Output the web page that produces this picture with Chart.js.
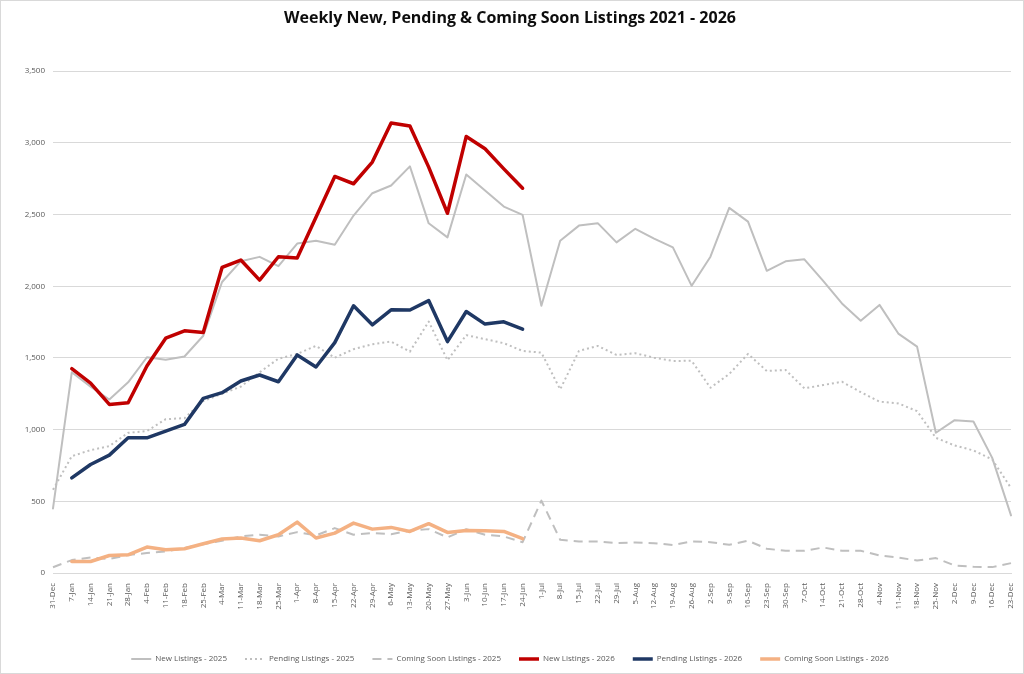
<!DOCTYPE html>
<html lang="en">

<head>
	<meta charset="UTF-8">
	<title>Weekly Listings</title>
	<script src="https://cdn.jsdelivr.net/npm/chart.js"></script>
	<style>
		html, body { margin: 0; padding: 0; background: #ffffff; }
		.janela { width: 1022px; height: 672px; border: 1px solid #d9d9d9; }
	</style>
</head>

<body>
	<div class="janela">
		<canvas id="graficoListings" width="1022" height="672"></canvas>
	</div>
	<script>
		// semanas (eixo x)
		var semanas = ['31-Dec', '7-Jan', '14-Jan', '21-Jan', '28-Jan', '4-Feb', '11-Feb', '18-Feb', '25-Feb',
			'4-Mar', '11-Mar', '18-Mar', '25-Mar', '1-Apr', '8-Apr', '15-Apr', '22-Apr', '29-Apr', '6-May',
			'13-May', '20-May', '27-May', '3-Jun', '10-Jun', '17-Jun', '24-Jun', '1-Jul', '8-Jul', '15-Jul',
			'22-Jul', '29-Jul', '5-Aug', '12-Aug', '19-Aug', '26-Aug', '2-Sep', '9-Sep', '16-Sep', '23-Sep',
			'30-Sep', '7-Oct', '14-Oct', '21-Oct', '28-Oct', '4-Nov', '11-Nov', '18-Nov', '25-Nov', '2-Dec',
			'9-Dec', '16-Dec', '23-Dec'];

		var novos2025 = [450, 1400, 1300, 1210, 1330, 1505, 1488, 1510, 1655, 2030, 2175, 2205, 2140, 2298,
			2318, 2290, 2493, 2649, 2703, 2836, 2439, 2341, 2780, 2668, 2556, 2498, 1864, 2318, 2423, 2440,
			2306, 2401, 2332, 2271, 2003, 2206, 2547, 2451, 2108, 2174, 2188, 2038, 1880, 1759, 1870, 1670,
			1579, 978, 1066, 1057, 803, 402];

		var pendentes2025 = [580, 815, 857, 885, 978, 990, 1073, 1080, 1200, 1250, 1300, 1400, 1495, 1528,
			1584, 1502, 1561, 1596, 1614, 1544, 1754, 1484, 1659, 1631, 1603, 1549, 1537, 1281, 1549, 1584,
			1521, 1533, 1502, 1479, 1480, 1292, 1388, 1528, 1409, 1416, 1288, 1311, 1334, 1262, 1195, 1183,
			1129, 943, 889, 855, 792, 593];

		var embreve2025 = [40, 90, 108, 98, 125, 139, 150, 174, 201, 225, 255, 267, 255, 285, 262, 313, 267,
			278, 271, 295, 306, 248, 306, 267, 255, 215, 505, 232, 220, 220, 208, 213, 208, 195, 220, 215,
			197, 225, 169, 155, 155, 178, 155, 155, 122, 108, 87, 104, 52, 43, 41, 69];

		var novos2026 = [null, 1425, 1325, 1176, 1187, 1444, 1638, 1689, 1677, 2131, 2183, 2043, 2206, 2197,
			2481, 2766, 2715, 2866, 3139, 3118, 2831, 2509, 3045, 2959, 2819, 2684];

		var pendentes2026 = [null, 663, 757, 822, 943, 943, 990, 1036, 1218, 1258, 1339, 1381, 1334, 1521,
			1437, 1607, 1864, 1731, 1836, 1834, 1900, 1614, 1824, 1736, 1752, 1701];

		var embreve2026 = [null, 80, 80, 122, 127, 181, 162, 169, 204, 237, 244, 225, 267, 355, 244, 278, 348,
			306, 318, 290, 344, 283, 297, 295, 290, 239];

		var ticksY = [0, 500, 1000, 1500, 2000, 2500, 3000, 3500];

		var fonte = "'Open Sans', 'Liberation Sans', sans-serif";

		function serie(nome, dados, cor, largura, traco, ordem) {
			return {
				label: nome,
				data: dados,
				borderColor: cor,
				backgroundColor: cor,
				borderWidth: largura,
				borderDash: traco,
				pointRadius: 0,
				pointHoverRadius: 0,
				tension: 0,
				fill: false,
				spanGaps: false,
				borderJoinStyle: 'round',
				borderCapStyle: traco.length ? 'butt' : 'round',
				order: ordem
			};
		}

		// legenda: manter ordem original e o tracejado de cada serie
		function gerarLegenda(chart) {
			var itens = Chart.defaults.plugins.legend.labels.generateLabels(chart);
			itens.forEach(function (item) {
				item.lineDash = chart.data.datasets[item.datasetIndex].borderDash;
				item.lineCap = 'butt';
			});
			return itens;
		}

		var ctx = document.getElementById('graficoListings').getContext('2d');
		var grafico = new Chart(ctx, {
			type: 'line',
			data: {
				labels: semanas,
				datasets: [
					serie('New Listings - 2025', novos2025, '#bfbfbf', 2, [], 1),
					serie('Pending Listings - 2025', pendentes2025, '#bfbfbf', 2, [2, 3], 1),
					serie('Coming Soon Listings - 2025', embreve2025, '#bfbfbf', 2, [9, 6], 1),
					serie('New Listings - 2026', novos2026, '#c00000', 3.5, [], 0),
					serie('Pending Listings - 2026', pendentes2026, '#1f3864', 3.5, [], 0),
					serie('Coming Soon Listings - 2026', embreve2026, '#f4b183', 3.5, [], 0)
				]
			},
			options: {
				responsive: false,
				animation: false,
				layout: {
					padding: { top: 6, left: 8, right: 12, bottom: 0 }
				},
				plugins: {
					title: {
						display: true,
						text: 'Weekly New, Pending & Coming Soon Listings 2021 - 2026',
						color: '#0d0d0d',
						font: { family: fonte, size: 16, weight: 'bold' },
						padding: { top: 2, bottom: 43 }
					},
					legend: {
						position: 'bottom',
						labels: {
							usePointStyle: true,
							pointStyle: 'line',
							pointStyleWidth: 20,
							boxHeight: 8,
							padding: 18,
							color: '#595959',
							font: { family: fonte, size: 8 },
							generateLabels: gerarLegenda,
							sort: function (a, b) { return a.datasetIndex - b.datasetIndex; }
						}
					},
					tooltip: { enabled: false }
				},
				scales: {
					x: {
						grid: { display: false },
						border: { color: '#d9d9d9' },
						ticks: {
							autoSkip: false,
							minRotation: 90,
							maxRotation: 90,
							padding: 2,
							color: '#595959',
							font: { family: fonte, size: 8 }
						},
						afterFit: function (escala) { escala.height = 64; }
					},
					y: {
						min: 0,
						max: 3500,
						afterBuildTicks: function (escala) {
							escala.ticks = ticksY.map(function (v) { return { value: v }; });
						},
						grid: { color: '#d9d9d9', drawTicks: false },
						border: { display: false },
						ticks: {
							padding: 8,
							color: '#595959',
							font: { family: fonte, size: 8 },
							callback: function (v) { return v.toLocaleString('en-US'); }
						},
						afterFit: function (escala) { escala.width = 44; }
					}
				}
			}
		});
	</script>
</body>

</html>
